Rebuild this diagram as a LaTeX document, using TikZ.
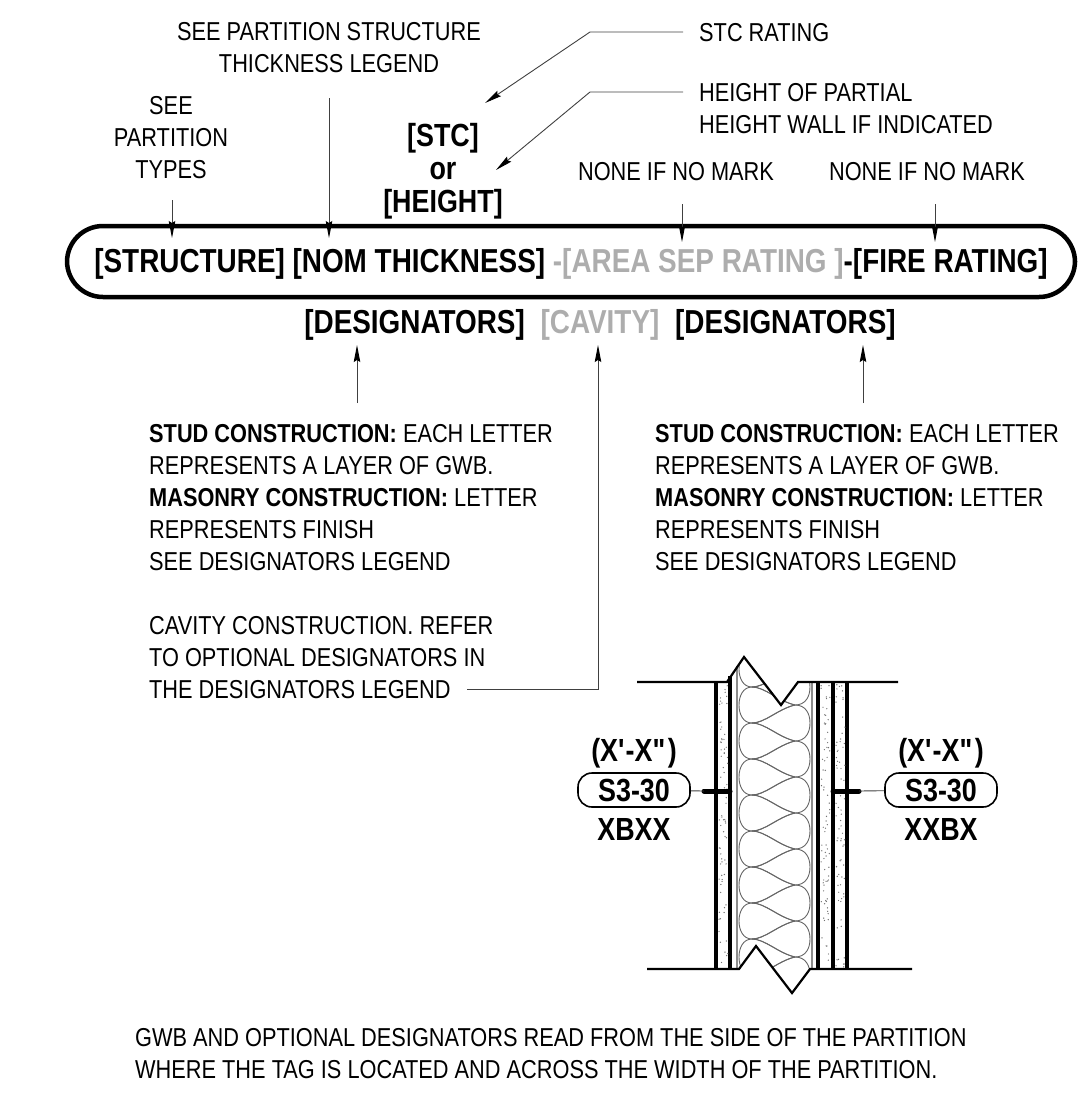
\documentclass[tikz,border=0pt]{standalone}
\usepackage{fontspec}
\setmainfont[FakeStretch=0.84]{Liberation Sans}
\usepackage{xcolor}
\usetikzlibrary{arrows.meta, positioning}
\definecolor{graytext}{gray}{0.68}
\tikzset{
    note/.style={inner sep=0pt, align=left, anchor=north west, font=\fontsize{25.9}{32}\selectfont},
    notecenter/.style={inner sep=0pt, align=center, font=\fontsize{25.9}{32}\selectfont},
    boldtext/.style={inner sep=0pt, align=center, font=\fontsize{33.2}{33}\selectfont\bfseries},
    tagbold/.style={inner sep=0pt, align=center, font=\fontsize{32}{33}\selectfont\bfseries},
    mainpill/.style={rectangle, rounded corners=36pt, minimum width=1008pt, minimum height=71pt, inner sep=0pt, line width=4.5pt, draw=black},
    pilltag/.style={rectangle, rounded corners=14pt, minimum width=112pt, minimum height=34pt, inner sep=0pt, line width=1.6pt, draw=black, font=\fontsize{32}{33}\selectfont\bfseries},
    arrow/.style={line width=0.9pt, draw=black!75, -{Stealth[length=17pt,width=6.5pt,inset=2pt,black]}},
    leader/.style={line width=0.9pt, draw=black!75},
    wallline/.style={line width=2.2pt},
    studline/.style={line width=3.2pt},
    gwbgray/.style={line width=1.6pt, draw=black!45},
    batt/.style={line width=0.9pt, draw=black!60},
    stub/.style={line width=5pt, line cap=round}
}
\newcommand{\squote}{\textquotesingle}
\newcommand{\dquote}{\textquotedbl}
\begin{document}
\begin{tikzpicture}[x=1pt, y=-1pt, node distance=32pt]
    \useasboundingbox (0,0) rectangle (1088,1096);
    % tag line
    \node (tagline) [mainpill] at (571,261.5) {};
    \node (tagtext) [boldtext] at (571,264) {[STRUCTURE] [NOM THICKNESS] \textcolor{graytext}{-[AREA SEP RATING ]}-[FIRE RATING]};
    \node (desig) [boldtext] at (600,325) {[DESIGNATORS]\hspace{8pt} \textcolor{graytext}{[CAVITY]}\hspace{8pt} [DESIGNATORS]};

    % notes above the tag line
    \node (seetypes) [notecenter] at (171,138) {SEE\\PARTITION\\TYPES};
    \node (seethick) [notecenter] at (329,48) {SEE PARTITION STRUCTURE\\THICKNESS LEGEND};
    \node (stcht) [tagbold] at (443,171) {{[STC]}\\or\\{[HEIGHT]}};
    \node (stc) [note] at (699,23) {STC RATING};
    \node (height) [note, below=41pt of stc.south west, anchor=north west] {HEIGHT OF PARTIAL\\HEIGHT WALL IF INDICATED};
    \node (noneA) [notecenter] at (676,172) {NONE IF NO MARK};
    \node (noneB) [notecenter, right of=noneA, node distance=251pt] {NONE IF NO MARK};

    % notes below the tag line
    \node (studL) [note] at (149,424) {\textbf{STUD CONSTRUCTION:} EACH LETTER\\REPRESENTS A LAYER OF GWB.\\\textbf{MASONRY CONSTRUCTION:} LETTER\\REPRESENTS FINISH\\SEE DESIGNATORS LEGEND};
    \node (studR) [note] at (655,424) {\textbf{STUD CONSTRUCTION:} EACH LETTER\\REPRESENTS A LAYER OF GWB.\\\textbf{MASONRY CONSTRUCTION:} LETTER\\REPRESENTS FINISH\\SEE DESIGNATORS LEGEND};
    \node (cavity) [note] at (149,616) {CAVITY CONSTRUCTION. REFER\\TO OPTIONAL DESIGNATORS IN\\THE DESIGNATORS LEGEND};
    \node (footer) [note] at (135,1028) {GWB AND OPTIONAL DESIGNATORS READ FROM THE SIDE OF THE PARTITION\\WHERE THE TAG IS LOCATED AND ACROSS THE WIDTH OF THE PARTITION.};

    % leader ends
    \coordinate (typesA) at (172,200);
    \coordinate (typesB) at (172,238);
    \coordinate (thickA) at (329,98);
    \coordinate (thickB) at (329,238);
    \coordinate (noneAa) at (682,204);
    \coordinate (noneAb) at (682,242);
    \coordinate (noneBa) at (935,204);
    \coordinate (noneBb) at (935,242);
    \coordinate (stcA) at (683,32);
    \coordinate (stcC) at (590,32);
    \coordinate (stcB) at (485,103);
    \coordinate (htA) at (683,92);
    \coordinate (htC) at (590,92);
    \coordinate (htB) at (496,170);
    \coordinate (desA) at (357,403);
    \coordinate (desB) at (357,345);
    \coordinate (desC) at (863,403);
    \coordinate (desD) at (863,345);
    \coordinate (cavA) at (467,689);
    \coordinate (cavC) at (598,689);
    \coordinate (cavB) at (598,345);

    \draw [arrow] (typesA) -- (typesB);
    \draw [arrow] (thickA) -- (thickB);
    \draw [arrow] (noneAa) -- (noneAb);
    \draw [arrow] (noneBa) -- (noneBb);
    \draw [arrow] (stcA) -- (stcC) -- (stcB);
    \draw [arrow] (htA) -- (htC) -- (htB);
    \draw [arrow] (desA) -- (desB);
    \draw [arrow] (desC) -- (desD);
    \draw [arrow] (cavA) -- (cavC) -- (cavB);

    % partition section
    \foreach \x in {716,730,833,847,818} {
        \draw [studline] (\x,682) -- (\x,969);
    }
    \foreach \x in {737,812} {
        \draw [gwbgray] (\x,682) -- (\x,969);
    }
    \draw [studline] (730,676) -- (730,682);
    \draw [gwbgray] (737,666) -- (737,682);
    \pgfmathsetseed{11}
    \foreach \x in {718,820,835} {
        \foreach \n in {1,...,75} {
            \pgfmathsetmacro{\dotx}{\x+1+rnd*9}
            \pgfmathsetmacro{\doty}{684+rnd*283}
            \fill [black!55] (\dotx,\doty) circle (0.7pt);
        }
    }
    \begin{scope}
        \clip (738,664) -- (744,657) -- (781,705) -- (798,682) -- (811,682) -- (811,969) -- (810,969) -- (792,993) -- (756,946) -- (739,969) -- (738,969) -- cycle;
        \foreach \y in {651,687,...,975} {
            \draw [batt] (795,\y-18) .. controls (778,\y-14) and (765,\y) .. (752,\y) .. controls (743,\y) and (739,\y+9) .. (739,\y+18) .. controls (739,\y+27) and (743,\y+36) .. (752,\y+36) .. controls (765,\y+36) and (778,\y+22) .. (795,\y+18);
            \draw [batt] (752,\y) .. controls (765,\y) and (778,\y+14) .. (795,\y+18) .. controls (806,\y+18) and (810,\y+27) .. (810,\y+36) .. controls (810,\y+45) and (806,\y+54) .. (795,\y+54) .. controls (778,\y+50) and (765,\y+36) .. (752,\y+36);
        }
    \end{scope}
    \coordinate (topA) at (637,682);
    \coordinate (topB) at (727,682);
    \coordinate (topC) at (744,657);
    \coordinate (topD) at (781,705);
    \coordinate (topE) at (798,682);
    \coordinate (topF) at (898,682);
    \coordinate (botA) at (647,969);
    \coordinate (botB) at (739,969);
    \coordinate (botC) at (756,946);
    \coordinate (botD) at (792,993);
    \coordinate (botE) at (810,969);
    \coordinate (botF) at (912,969);
    \draw [wallline] (topA) -- (topB) -- (topC) -- (topD) -- (topE) -- (topF);
    \draw [wallline] (botA) -- (botB) -- (botC) -- (botD) -- (botE) -- (botF);

    % tags on the partition
    \node (tagL) [pilltag] at (634,790) {S3-30};
    \node (dimL) [tagbold, above of=tagL, node distance=37pt] {(X\squote-X\dquote)};
    \node (codeL) [tagbold, below of=tagL, node distance=39pt] {XBXX};
    \node (tagR) [pilltag, right of=tagL, node distance=307pt] {S3-30};
    \node (dimR) [tagbold, above of=tagR, node distance=37pt] {(X\squote-X\dquote)};
    \node (codeR) [tagbold, below of=tagR, node distance=39pt] {XXBX};
    \coordinate (stubL) at (704,791);
    \coordinate (wallL) at (730,791);
    \coordinate (stubR) at (859,791);
    \coordinate (wallR) at (833,791);
    \draw [stub] (stubL) -- (wallL);
    \draw [stub] (wallR) -- (stubR);
    \draw [leader] (tagL) -- (stubL);
    \draw [leader] (tagR) -- (stubR);
\end{tikzpicture}
\end{document}
